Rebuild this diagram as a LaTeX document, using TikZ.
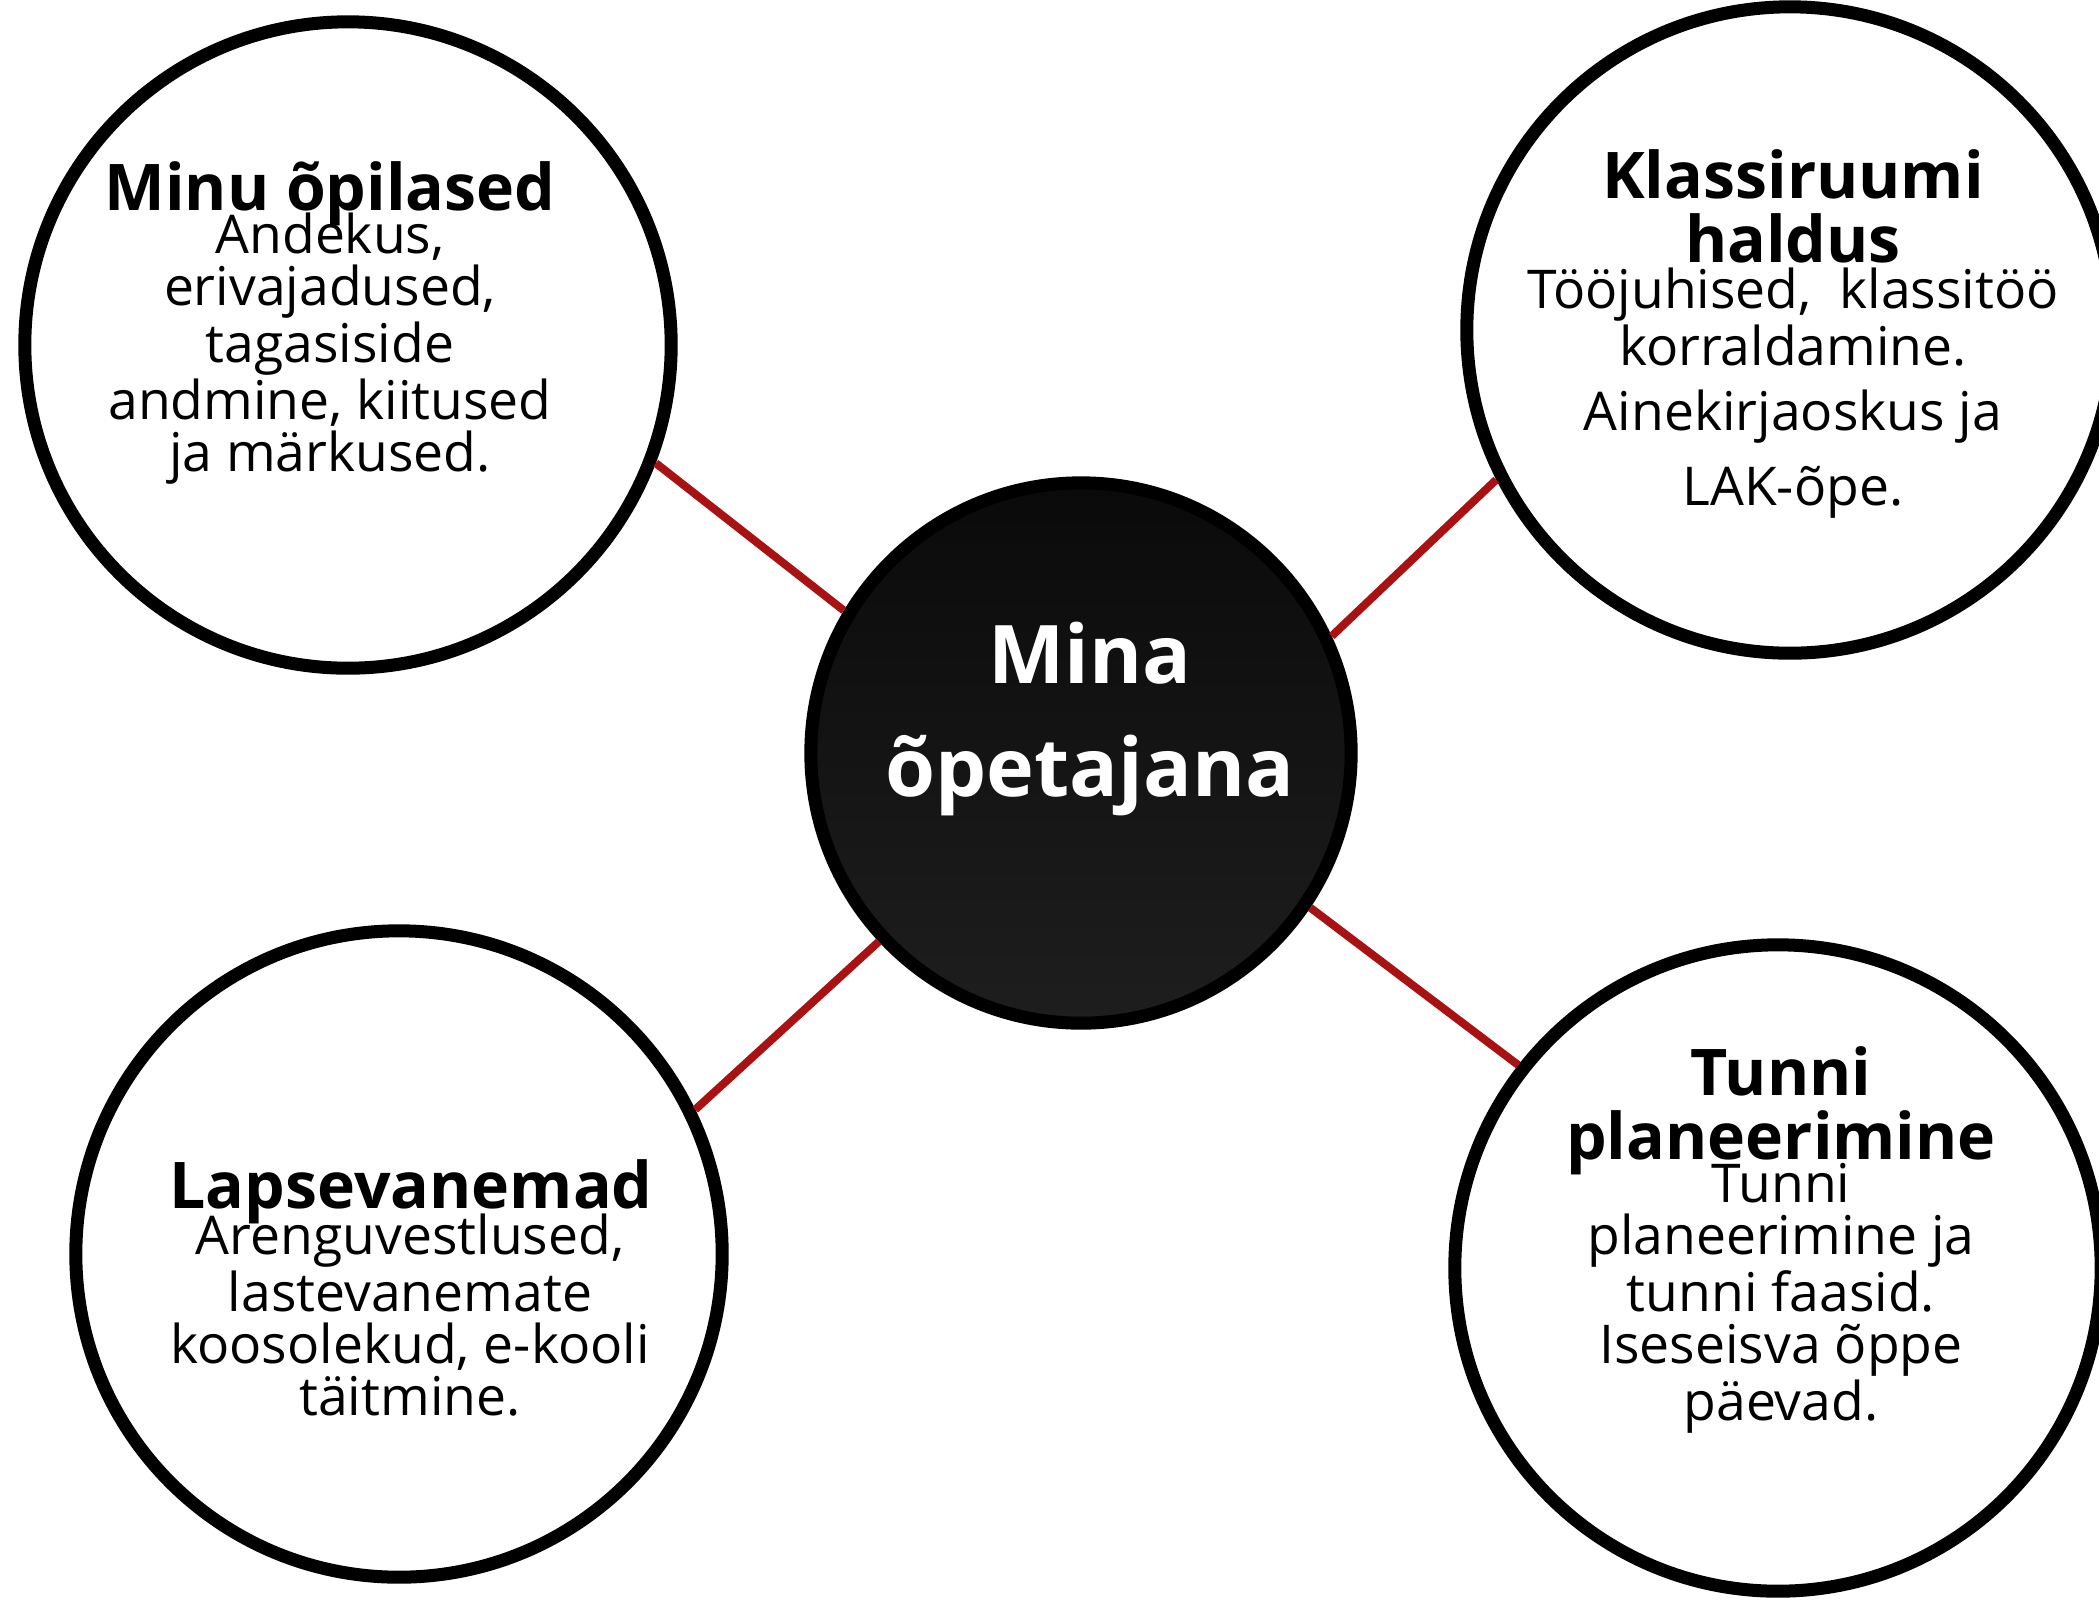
\documentclass[tikz,border=0pt]{standalone}
\usepackage{fontspec}
\setmainfont{Open Sans}
\usetikzlibrary{positioning}

\definecolor{linkred}{RGB}{168,18,18}
\definecolor{hubtop}{RGB}{10,10,10}
\definecolor{hubbot}{RGB}{30,30,30}

\tikzset{
    ring/.style={circle, draw=black, line width=0.13cm, fill=white,
        minimum size=6.46cm, inner sep=0pt},
    hub/.style={circle, draw=black, line width=0.13cm,
        top color=hubtop, bottom color=hubbot,
        minimum size=5.40cm, inner sep=0pt},
    link/.style={draw=linkred, line width=0.08cm},
    head/.style={font=\bfseries\fontsize{18.3}{18}\selectfont,
        align=center, anchor=base, inner sep=0pt},
    body/.style={font=\fontsize{15.2}{14.7}\selectfont,
        align=center, anchor=base, inner sep=0pt},
}

\begin{document}
\begin{tikzpicture}[x=0.01cm, y=-0.01cm]

    \clip (0,0) rectangle (2099,1599);
    \fill[white] (0,0) rectangle (2099,1599);

    \node[hub] (mina) at (1081,753){};
    \node[ring] (pupils) at (348,345){};
    \node[ring] (room) at (1790,330){};
    \node[ring] (parents) at (399,1254){};
    \node[ring] (lessons) at (1778,1268){};

    \draw[link] (pupils.-21.7) -- (mina.149);
    \draw[link] (room.207.5) -- (mina.25.5);
    \draw[link] (parents.26.8) -- (mina.223.4);
    \draw[link] (lessons.142.7) -- (mina.-34.7);

    % base = last line
    \node[head,
        text=white,
        font=\bfseries\fontsize{23}{32}\selectfont
    ] (minaT) at (1090,796){Mina\\õpetajana};

    \node[head] (pupilsT) at (330,210){Minu õpilased};
    \node[body] (pupilsB) at (330,471){Andekus,\\erivajadused,\\tagasiside\\andmine, kiitused\\ja märkused.};

    \node[head] (roomT) at (1793,262){Klassiruumi\\haldus};
    \node[body] (roomB) at (1793,505){Tööjuhised,\ \ klassitöö\\korraldamine.\\[3.7pt]Ainekirjaoskus ja\\[5.4pt]LAK-õpe.};

    \node[head] (parentsT) at (411,1208){Lapsevanemad};
    \node[body] (parentsB) at (410,1415){Arenguvestlused,\\lastevanemate\\koosolekud, e-kooli\\täitmine.};

    \node[head] (lessonsT) at (1781,1159){Tunni\\planeerimine};
    \node[body] (lessonsB) at (1781,1420){Tunni\\planeerimine ja\\tunni faasid.\\Iseseisva õppe\\päevad.};

\end{tikzpicture}
\end{document}
